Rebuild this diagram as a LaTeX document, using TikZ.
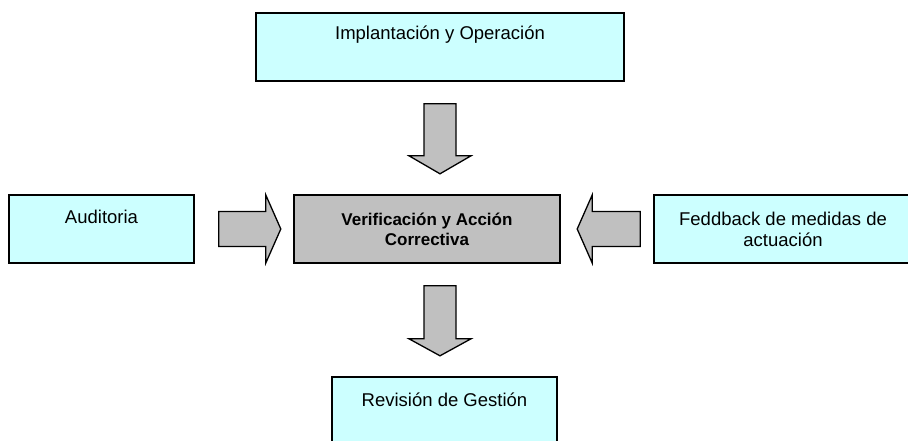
\documentclass[tikz,border=0pt]{standalone}
\usepackage{fontspec}
\setmainfont{Liberation Sans}
\usetikzlibrary{calc}
\definecolor{boxcyan}{RGB}{204,255,255}
\definecolor{boxgray}{RGB}{192,192,192}
\tikzset{
  box/.style={draw, line width=1.6pt, fill=boxcyan, minimum height=68pt, inner sep=0pt},
  boxtext/.style={inner sep=0pt, align=center, font=\fontsize{18.5}{21}\selectfont},
  blockarrow/.style={draw, line width=1.3pt, fill=boxgray, line join=miter}
}
\begin{document}
\begin{tikzpicture}[x=1pt,y=-1pt]
      \useasboundingbox (0,0) rectangle (908,441);
      \clip (0,0) rectangle (908,441);
      \draw
        (440,47) node[box, minimum width=368pt] (impl){}
        (101.5,229) node[box, minimum width=185pt] (aud){}
        (427,229) node[box, minimum width=266pt, fill=boxgray] (verif){}
        (783,229) node[box, minimum width=258pt] (feed){}
        (444.5,411) node[box, minimum width=225pt] (rev){};
      \node[boxtext] (impltxt) at ([yshift=-22pt]impl.north) {Implantación y Operación};
      \node[boxtext] (audtxt) at ([yshift=-23pt]aud.north) {Auditoria};
      \node[boxtext, font=\fontsize{17}{20}\selectfont\bfseries] (veriftxt) at (verif.center) {Verificación y Acción\\Correctiva};
      \node[boxtext] (feedtxt) at (feed.center) {Feddback de medidas de\\actuación};
      \node[boxtext] (revtxt) at ([yshift=-24pt]rev.north) {Revisión de Gestión};
      % block arrows between the boxes
      \coordinate (down1) at ([yshift=-22pt]impl.south);
      \coordinate (right1) at ([xshift=24pt]aud.east);
      \coordinate (left1) at ([xshift=-13pt]feed.west);
      \coordinate (down2) at ($(impl.south |- verif.south)+(0,22)$);
      \draw[blockarrow] (down1) ++(-16,0) -- ++(0,52) -- ++(-15,0) -- ++(31,18) -- ++(31,-18) -- ++(-15,0) -- ++(0,-52) -- cycle;
      \draw[blockarrow] (down2) ++(-16,0) -- ++(0,53) -- ++(-15,0) -- ++(31,17) -- ++(31,-17) -- ++(-15,0) -- ++(0,-53) -- cycle;
      \draw[blockarrow] (right1) ++(0,-17.5) -- ++(47,0) -- ++(0,-16.5) -- ++(15,34) -- ++(-15,34) -- ++(0,-16.5) -- ++(-47,0) -- cycle;
      \draw[blockarrow] (left1) ++(0,-17.5) -- ++(-48,0) -- ++(0,-16.5) -- ++(-15,34) -- ++(15,34) -- ++(0,-16.5) -- ++(48,0) -- cycle;
    \end{tikzpicture}
\end{document}
